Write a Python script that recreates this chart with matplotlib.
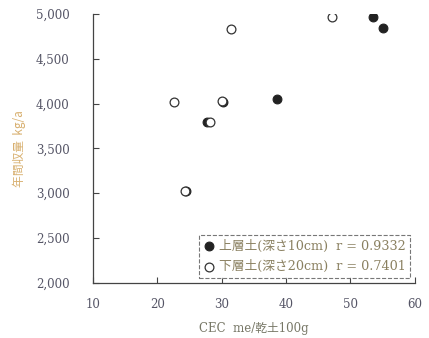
import matplotlib.pyplot as plt

plt.rcParams['font.family'] = ['DejaVu Serif', 'Noto Sans CJK JP']

# upper layer soil (depth 10cm) - filled
upper_cec = [24.5, 27.7, 30.2, 38.6, 53.5, 55.1]
upper_yield = [3022, 3797, 4020, 4047, 4963, 4844]

# lower layer soil (depth 20cm) - open
lower_cec = [22.5, 24.3, 28.2, 30.0, 31.5, 47.2]
lower_yield = [4017, 3022, 3797, 4031, 4836, 4963]

xticks = [10, 20, 30, 40, 50, 60]
yticks = [2000, 2500, 3000, 3500, 4000, 4500, 5000]

fig = plt.figure(figsize=(4.29, 3.38), dpi=100)
ax = fig.add_axes([0.217, 0.163, 0.75, 0.796])

ax.scatter(upper_cec, upper_yield, s=40, c='#222222', edgecolors='#222222',
           linewidths=0.8, zorder=3, label='上層土(深さ10cm)  r = 0.9332')
ax.scatter(lower_cec, lower_yield, s=40, c='white', edgecolors='#333333',
           linewidths=0.9, zorder=4, label='下層土(深さ20cm)  r = 0.7401')

ax.set_xlim(10, 60)
ax.set_ylim(2000, 5000)
ax.set_xticks(xticks)
ax.set_yticks(yticks)
ax.set_yticklabels(['{:,}'.format(v) for v in yticks])

ax.spines['top'].set_visible(False)
ax.spines['right'].set_visible(False)
for s in ['left', 'bottom']:
    ax.spines[s].set_color('#444444')
    ax.spines[s].set_linewidth(0.9)
ax.tick_params(direction='in', length=4, width=0.8, color='#444444',
               labelsize=8.5, labelcolor='#555566', pad=11)
ax.tick_params(axis='y', pad=17)

ax.set_ylabel('年間収量  kg/a', color='#d8b070', fontsize=8.5,
              family=['Noto Sans CJK JP'], labelpad=7)
ax.set_xlabel('CEC  me/乾土100g', color='#777766', fontsize=8.5, labelpad=8)

leg = ax.legend(loc='lower right', fontsize=9.2, frameon=True, fancybox=False,
                handletextpad=0.3, borderpad=0.35, labelspacing=0.6,
                handlelength=0.9, borderaxespad=0.4)
leg.get_frame().set_edgecolor('#555555')
leg.get_frame().set_linestyle('--')
leg.get_frame().set_linewidth(0.8)
for t in leg.get_texts():
    t.set_color('#8a8060')

fig.savefig('out.png', dpi=100)
